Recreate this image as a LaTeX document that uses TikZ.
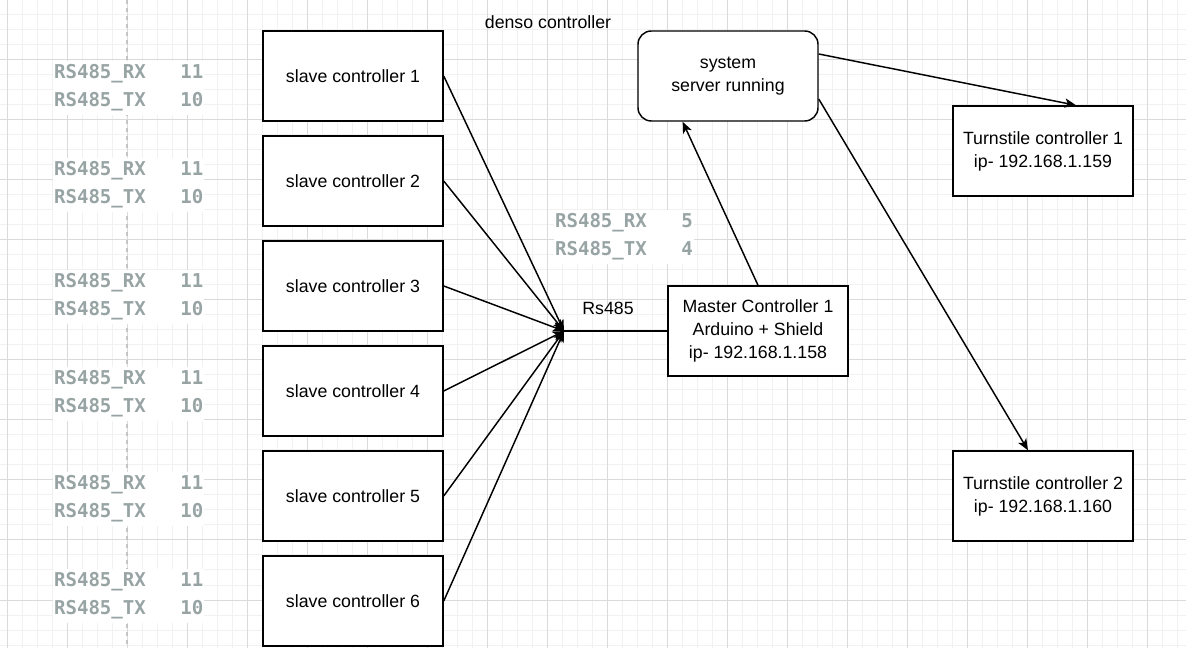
\documentclass[tikz,border=0pt]{standalone}
\usepackage{fontspec}
\setmainfont{Liberation Sans}
\newfontfamily\monof{DejaVu Sans Mono}
\usetikzlibrary{arrows.meta,calc}
\definecolor{gridminor}{HTML}{F1F1F1}
\definecolor{gridmajor}{HTML}{DADADA}
\definecolor{pagebrk}{HTML}{C4C4C4}
\definecolor{labgray}{HTML}{98A4A4}
\tikzset{
  box/.style={draw, line width=1.1pt, fill=white, minimum width=135pt, minimum height=67.5pt, inner sep=0pt, align=center, font=\fontsize{13.3}{17.25}\selectfont},
  rbox/.style={box, rounded corners=10pt},
  plain/.style={font=\fontsize{13.3}{17.25}\selectfont, inner sep=0pt},
  pinlab/.style={fill=white, align=left, anchor=west, inner xsep=0.6pt, inner ysep=3pt, text=labgray, font=\monof\bfseries\fontsize{14.3}{21}\selectfont},
  conn/.style={line width=1.1pt},
  arr/.style={conn, -{Stealth[length=8.5pt,width=7pt,inset=2.2pt]}}
}
\begin{document}
\begin{tikzpicture}[x=0.75pt,y=-0.75pt]
\useasboundingbox (0,0) rectangle (1186,648);
\fill[white] (0,0) rectangle (1186,648);
% grid
\foreach \x in {7,22,...,1186} \draw[gridminor, line width=0.75pt] (\x,0) -- (\x,648);
\foreach \y in {15,30,...,648} \draw[gridminor, line width=0.75pt] (0,\y) -- (1186,\y);
\foreach \x in {7,67,...,1186} \draw[gridmajor, line width=0.75pt] (\x,0) -- (\x,648);
\foreach \y in {0,60,...,648} \draw[gridmajor, line width=0.75pt] (0,\y) -- (1186,\y);
\draw[pagebrk, line width=0.9pt, dash pattern=on 3pt off 3pt] (127,0) -- (127,648);

% pin labels
\foreach \yy/\nm in {88/a,185/b,297/c,394/d,499/e,596/f}
  \node[pinlab] (pin\nm) at (53,\yy) {RS485\_RX\ \ \ 11\\RS485\_TX\ \ \ 10};
\node[pinlab] (pinm) at (554,237) {RS485\_RX\ \ \ 5\\RS485\_TX\ \ \ 4};

% slave controllers
\node[box] (s1) at (353,76) {slave controller 1};
\node[box] (s2) at (353,181) {slave controller 2};
\node[box] (s3) at (353,286) {slave controller 3};
\node[box] (s4) at (353,391) {slave controller 4};
\node[box] (s5) at (353,496) {slave controller 5};
\node[box] (s6) at (353,601) {slave controller 6};

\node[rbox] (sys) at (728,76) {system\\server running};
\node[box] (mc) at (758,331) {Master Controller 1\\Arduino + Shield\\ip- 192.168.1.158};
\node[box] (t1) at (1043,151) {Turnstile controller 1\\ip- 192.168.1.159};
\node[box] (t2) at (1043,496) {Turnstile controller 2\\ip- 192.168.1.160};

\node[plain] (title) at (548,22) {denso controller};
\node[plain] (rs) at (608,308) {Rs485};

\coordinate (hub) at (564,331);
\draw[conn] (mc.west) -- (hub);
\foreach \s in {s1,s2,s3,s4,s5,s6}
  \draw[arr] (\s.east) -- (hub);

\draw[arr] (mc.north) -- ($(sys.south west)!0.25!(sys.south east)$);
\draw[arr] ($(sys.east)+(0,-22)$) -- ($(t1.north)+(33,0)$);
\draw[arr] ($(sys.east)+(0,23)$) -- ($(t2.north)+(-15,0)$);
\end{tikzpicture}
\end{document}
